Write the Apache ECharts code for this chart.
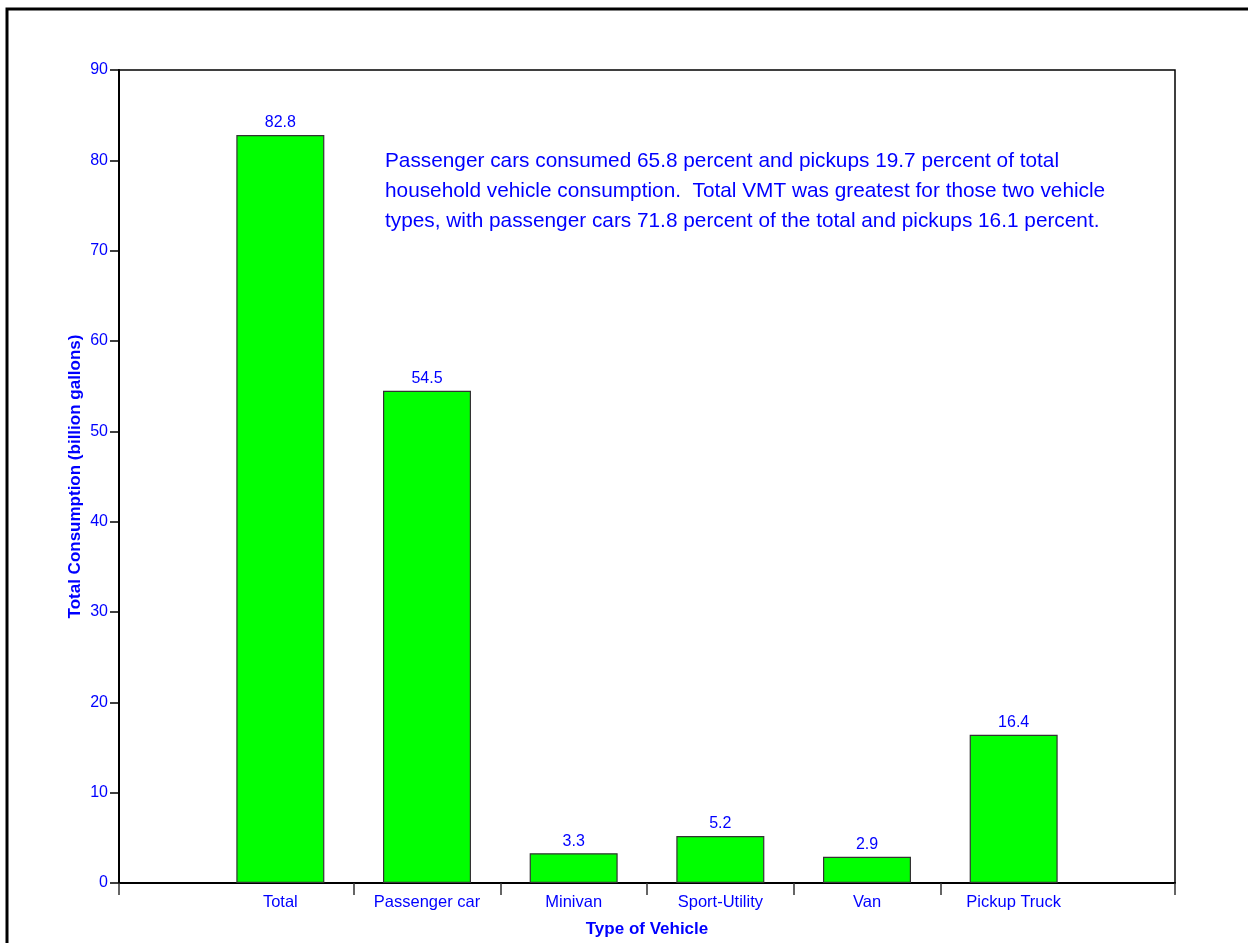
<!DOCTYPE html>
<html>
<head>
<meta charset="utf-8">
<script src="https://cdn.jsdelivr.net/npm/echarts@6/dist/echarts.min.js"></script>
<style>
html,body{margin:0;padding:0;background:#fff;overflow:hidden;}
#chart{width:1248px;height:943px;}
</style>
</head>
<body>
<div id="chart"></div>
<script>
const categories = ['Total', 'Passenger car', 'Minivan', 'Sport-Utility', 'Van', 'Pickup Truck'];
const consumption = [82.8, 54.5, 3.3, 5.2, 2.9, 16.4];
const yTicks = [0, 10, 20, 30, 40, 50, 60, 70, 80, 90];
const annotation = [
  'Passenger cars consumed 65.8 percent and pickups 19.7 percent of total',
  'household vehicle consumption.  Total VMT was greatest for those two vehicle',
  'types, with passenger cars 71.8 percent of the total and pickups 16.1 percent.'
];

const BLUE = '#0000ff';
const FONT = '"Liberation Sans", Arial, sans-serif';

const chart = echarts.init(document.getElementById('chart'), null, {renderer: 'canvas', width: 1248, height: 943});

const barData = categories.map((c, i) => [i + 0.5, consumption[i]]);
const catCenters = categories.map((c, i) => i + 0.5);
const boundaries = [-0.6].concat(categories.slice(1).map((c, i) => i + 1)).concat([categories.length + 0.6]);

chart.setOption({
  animation: false,
  backgroundColor: '#fff',
  grid: {
    left: 119, right: 73, top: 70, bottom: 60,
    containLabel: false,
    outerBoundsMode: 'none',
    show: true, borderColor: '#000', borderWidth: 1.5, backgroundColor: 'transparent'
  },
  xAxis: {
    type: 'value',
    min: -0.6,
    max: categories.length + 0.6,
    name: 'Type of Vehicle',
    nameLocation: 'middle',
    nameGap: 38,
    nameMoveOverlap: false,
    nameTextStyle: {color: BLUE, fontFamily: FONT, fontSize: 17, fontWeight: 'bold'},
    axisLine: {show: true, onZero: false, lineStyle: {color: '#000', width: 2}},
    axisTick: {show: true, length: 12, inside: false, customValues: boundaries, lineStyle: {color: '#333', width: 1.5}},
    axisLabel: {
      show: true, margin: 11, color: BLUE, fontFamily: FONT, fontSize: 16.5,
      customValues: catCenters,
      formatter: v => categories[Math.floor(v)] || ''
    },
    splitLine: {show: false}
  },
  yAxis: {
    type: 'value',
    min: yTicks[0],
    max: yTicks[yTicks.length - 1],
    interval: 10,
    name: 'Total Consumption (billion gallons)',
    nameLocation: 'middle',
    nameGap: 35,
    nameMoveOverlap: false,
    nameTextStyle: {color: BLUE, fontFamily: FONT, fontSize: 17, fontWeight: 'bold'},
    axisLine: {show: true, onZero: false, lineStyle: {color: '#000', width: 2}},
    axisTick: {show: true, length: 9, inside: false, lineStyle: {color: '#000', width: 1.5}},
    axisLabel: {margin: 11, color: BLUE, fontFamily: FONT, fontSize: 16},
    splitLine: {show: false}
  },
  series: [{
    type: 'bar',
    data: barData,
    barWidth: 88,
    itemStyle: {color: '#00ff00', borderColor: '#333', borderWidth: 1.2},
    label: {
      show: true, position: 'top', distance: 4,
      color: BLUE, fontFamily: FONT, fontSize: 16,
      formatter: p => p.value[1].toFixed(1)
    }
  }],
  graphic: [
    {
      type: 'polyline',
      shape: {points: [[7, 943], [7, 9], [1248, 9]]},
      style: {stroke: '#000', lineWidth: 3, fill: null}
    },
    {
      type: 'text',
      left: 385,
      top: 146,
      style: {
        text: annotation.join('\n'),
        fill: BLUE,
        font: '20.8px ' + FONT,
        lineHeight: 30
      }
    }
  ]
});
</script>
</body>
</html>
